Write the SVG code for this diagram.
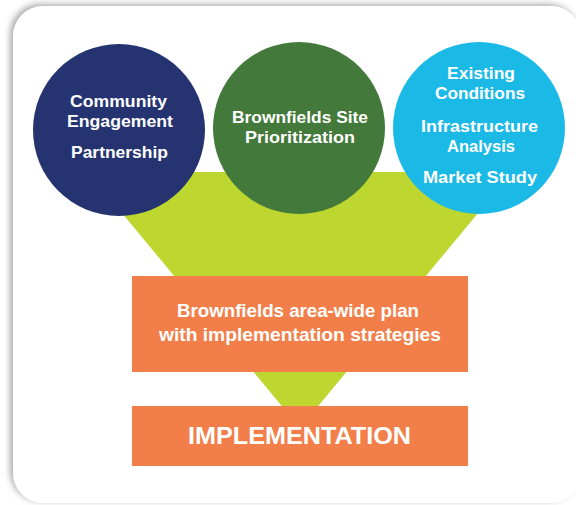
<svg xmlns="http://www.w3.org/2000/svg" width="576" height="505" viewBox="0 0 576 505">
  <defs>
    <filter id="shadow" x="-5%" y="-5%" width="110%" height="110%">
      <feDropShadow dx="-3" dy="-2" stdDeviation="3" flood-color="#888" flood-opacity="0.7"/>
    </filter>
    <style>
      .t { font-family: "Liberation Sans", Arial, sans-serif; font-weight: bold; fill: #ffffff; text-anchor: middle; }
      .c { font-size: 17px; }
      .b { font-size: 18.5px; }
      .big { font-size: 24px; }
      .funnel { fill: #bdd630; }
      .box { fill: #f27f4a; }
    </style>
  </defs>
  <rect x="0" y="0" width="576" height="505" fill="#ffffff"/>
  <rect id="panel" x="13" y="6" width="568" height="497" rx="30" ry="30" fill="#ffffff" filter="url(#shadow)"/>

  <g id="connectors">
    <polygon class="funnel" points="88,172 512,172 300,428"/>
  </g>

  <g id="community">
    <circle cx="119" cy="130" r="86" fill="#253470"/>
    <text class="t c" x="118.5" y="107" textLength="97" lengthAdjust="spacingAndGlyphs">Community</text>
    <text class="t c" x="120" y="127" textLength="106" lengthAdjust="spacingAndGlyphs">Engagement</text>
    <text class="t c" x="119.5" y="158" textLength="97" lengthAdjust="spacingAndGlyphs">Partnership</text>
  </g>

  <g id="prioritization">
    <circle cx="299" cy="128" r="86" fill="#43793a"/>
    <text class="t c" x="300" y="123" textLength="136" lengthAdjust="spacingAndGlyphs">Brownfields Site</text>
    <text class="t c" x="300" y="143" textLength="110" lengthAdjust="spacingAndGlyphs">Prioritization</text>
  </g>

  <g id="conditions">
    <circle cx="479" cy="128" r="86" fill="#1bb9e6"/>
    <text class="t c" x="481" y="79" textLength="68" lengthAdjust="spacingAndGlyphs">Existing</text>
    <text class="t c" x="480" y="99" textLength="90" lengthAdjust="spacingAndGlyphs">Conditions</text>
    <text class="t c" x="479.5" y="132" textLength="117" lengthAdjust="spacingAndGlyphs">Infrastructure</text>
    <text class="t c" x="481" y="152" textLength="68" lengthAdjust="spacingAndGlyphs">Analysis</text>
    <text class="t c" x="480" y="183" textLength="114" lengthAdjust="spacingAndGlyphs">Market Study</text>
  </g>

  <g id="plan">
    <rect class="box" x="132" y="276" width="336" height="96"/>
    <text class="t b" x="298" y="317" textLength="242" lengthAdjust="spacingAndGlyphs">Brownfields area-wide plan</text>
    <text class="t b" x="300" y="341" textLength="282" lengthAdjust="spacingAndGlyphs">with implementation strategies</text>
  </g>

  <g id="implementation">
    <rect class="box" x="132" y="406" width="336" height="60"/>
    <text class="t big" x="299.5" y="444" textLength="223" lengthAdjust="spacingAndGlyphs">IMPLEMENTATION</text>
  </g>
</svg>
